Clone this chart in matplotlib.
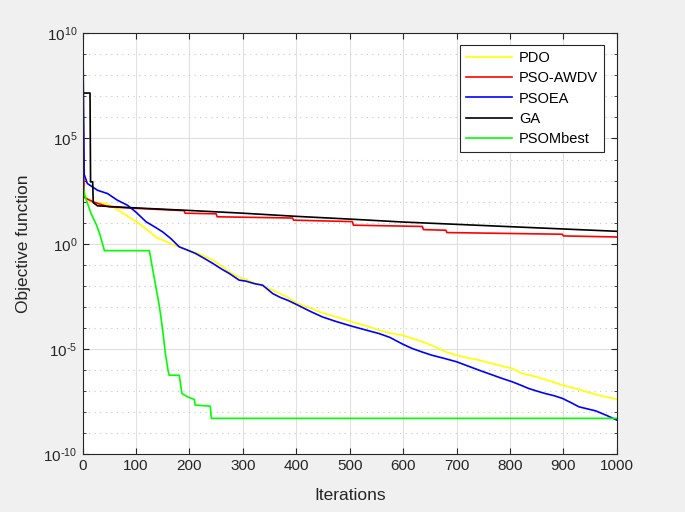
import numpy as np
import matplotlib
matplotlib.use("Agg")
import matplotlib.pyplot as plt
from matplotlib.ticker import FixedLocator, FuncFormatter, NullFormatter

plt.rcParams['font.family'] = ['Liberation Sans', 'DejaVu Sans']
plt.rcParams['mathtext.default'] = 'regular'

# iterations / log10(objective)
pdo_it = [1, 5, 13, 30, 45, 60, 82, 100, 119, 138, 150, 170, 200, 220, 244, 260, 275, 293, 306, 330,
          356, 380, 403, 425, 449, 475, 504, 530, 555, 575, 599, 617, 636, 660, 680, 700, 720, 742,
          770, 804, 823, 850, 879, 898, 929, 966, 1000]
pdo_log = [2.65, 2.3, 2.0, 1.95, 1.9, 1.7, 1.35, 1.05, 0.7, 0.3, 0.17, -0.05, -0.31, -0.5, -0.78, -1.05,
           -1.35, -1.6, -1.7, -1.95, -2.21, -2.5, -2.84, -3.05, -3.29, -3.48, -3.71, -3.9, -4.11, -4.25,
           -4.35, -4.5, -4.66, -4.9, -5.14, -5.3, -5.42, -5.53, -5.72, -5.93, -6.17, -6.33, -6.56, -6.72,
           -6.93, -7.2, -7.39]

awdv_it = [1, 3, 19, 30, 50, 100, 150, 190, 192, 250, 252, 393, 395, 505, 507, 636, 638, 680, 682,
           898, 900, 1000]
awdv_log = [6.5, 2.2, 2.0, 1.9, 1.75, 1.68, 1.62, 1.57, 1.45, 1.42, 1.28, 1.22, 1.12, 1.05, 0.88,
            0.82, 0.67, 0.64, 0.53, 0.45, 0.37, 0.32]

psoea_it = [1, 3, 9, 28, 47, 65, 84, 100, 119, 135, 150, 165, 181, 196, 212, 228, 244, 260, 275, 293,
            306, 322, 337, 356, 370, 385, 403, 425, 449, 475, 504, 530, 555, 575, 599, 617, 636, 654,
            677, 700, 720, 742, 763, 785, 804, 820, 835, 850, 866, 882, 898, 914, 929, 945, 960, 980, 1000]
psoea_log = [8.95, 3.3, 2.86, 2.54, 2.38, 2.07, 1.83, 1.5, 1.04, 0.8, 0.56, 0.25, -0.15, -0.3, -0.47,
             -0.7, -0.94, -1.2, -1.42, -1.73, -1.78, -1.9, -1.97, -2.37, -2.55, -2.7, -2.92, -3.2, -3.48,
             -3.7, -3.92, -4.1, -4.27, -4.45, -4.77, -4.98, -5.15, -5.3, -5.45, -5.61, -5.8, -6.01, -6.2,
             -6.4, -6.56, -6.72, -6.88, -7.0, -7.12, -7.22, -7.35, -7.55, -7.75, -7.85, -7.94, -8.15, -8.38]

ga_it = [1, 14, 15, 19, 20, 28, 100, 200, 300, 400, 500, 600, 700, 800, 900, 1000]
ga_log = [7.16, 7.16, 2.94, 2.94, 1.95, 1.8, 1.70, 1.58, 1.45, 1.30, 1.17, 1.03, 0.92, 0.81, 0.70, 0.59]

mbest_it = [1, 4, 16, 25, 32, 41, 125, 135, 144, 150, 155, 160, 162, 181, 186, 197, 209, 211, 239, 241, 1000]
mbest_log = [2.78, 2.3, 1.43, 0.95, 0.48, -0.33, -0.33, -1.74, -3.0, -4.11, -5.22, -6.01, -6.25, -6.25,
             -7.12, -7.28, -7.4, -7.67, -7.72, -8.3, -8.3]

series = [
    ('PDO', pdo_it, pdo_log, '#ffff00'),
    ('PSO-AWDV', awdv_it, awdv_log, '#ff0000'),
    ('PSOEA', psoea_it, psoea_log, '#0000ff'),
    ('GA', ga_it, ga_log, '#000000'),
    ('PSOMbest', mbest_it, mbest_log, '#00ff00'),
]


def decade_label(v, pos):
    k = int(round(np.log10(v)))
    if k < 0:
        return r'$10^{\text{-}%d}$' % (-k)
    return r'$10^{%d}$' % k


fig = plt.figure(figsize=(6.85, 5.12), dpi=100, facecolor='#f0f0f0')
ax = fig.add_axes([0.1205, 0.113, 0.780, 0.822])
ax.set_facecolor('white')

for name, it, lg, col in series:
    ax.plot(it, 10.0 ** np.array(lg), color=col, lw=1.2, label=name)

ax.set_yscale('log')
ax.set_xlim(0, 1000)
ax.set_ylim(1e-10, 1e10)

ax.xaxis.set_major_locator(FixedLocator(np.arange(0, 1001, 100)))
ax.yaxis.set_major_locator(FixedLocator([1e-10, 1e-5, 1e0, 1e5, 1e10]))
ax.yaxis.set_minor_locator(FixedLocator([10.0 ** k for k in range(-10, 11) if k % 5 != 0]))
ax.yaxis.set_major_formatter(FuncFormatter(decade_label))
ax.yaxis.set_minor_formatter(NullFormatter())

ax.grid(True, which='major', color='#e0e0e0', lw=0.8, ls='-')
ax.grid(True, which='minor', axis='y', color='#c8c8c8', lw=0.8, ls=(0, (1, 4)))
ax.set_axisbelow(True)

ax.tick_params(which='both', direction='in', top=True, right=True, colors='#262626',
               labelsize=11, labelcolor='#262626')
ax.tick_params(which='major', length=4)
ax.tick_params(which='minor', length=2.5)
for sp in ax.spines.values():
    sp.set_color('#262626')
    sp.set_linewidth(0.8)

ax.set_xlabel('Iterations', fontsize=12.5, color='#262626', labelpad=11)
ax.set_ylabel('Objective function', fontsize=12.5, color='#262626', labelpad=9)

leg = ax.legend(loc='upper right', bbox_to_anchor=(0.976, 0.971), borderaxespad=0.,
                fontsize=10.5, handlelength=3.2, handletextpad=0.45, labelspacing=0.42,
                fancybox=False, framealpha=1, edgecolor='#262626')
leg.get_frame().set_linewidth(0.8)

fig.savefig('out.png', dpi=100, facecolor=fig.get_facecolor())
